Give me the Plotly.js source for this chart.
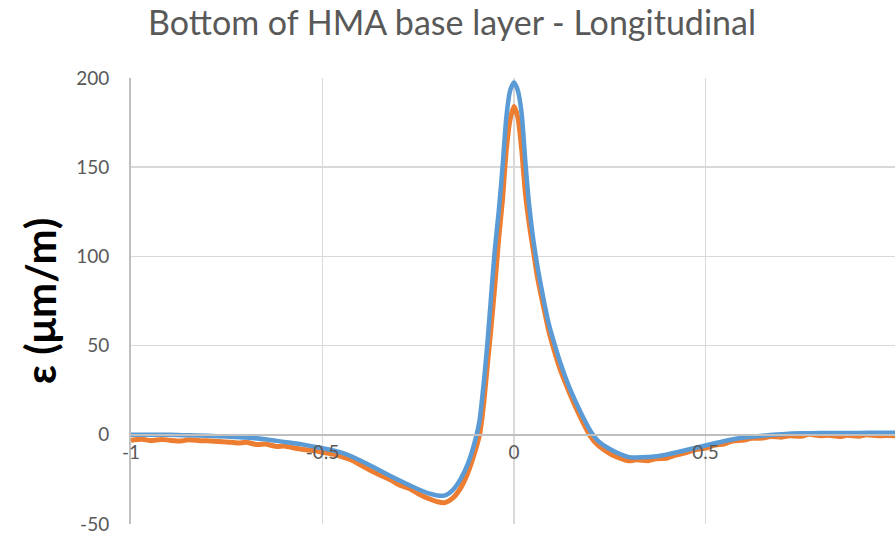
<!DOCTYPE html>
<html>
<head>
<meta charset="utf-8">
<script src="https://cdn.plot.ly/plotly-3.0.1.min.js"></script>
<style>
html,body{margin:0;padding:0;overflow:hidden;background:#fff;}
#chart{width:900px;height:536px;}
</style>
</head>
<body>
<div id="chart"></div>
<script>
// Position along the section (x) and strain (µm/m)
const blueX = [-1, -0.95, -0.9, -0.85, -0.8, -0.75, -0.7, -0.65, -0.6, -0.55, -0.5, -0.45, -0.4, -0.35, -0.3, -0.25, -0.22, -0.2, -0.18, -0.16, -0.14, -0.12, -0.1, -0.09, -0.08, -0.07, -0.06, -0.05, -0.04, -0.03, -0.02, -0.01, 0, 0.01, 0.02, 0.03, 0.04, 0.05, 0.06, 0.07, 0.08, 0.09, 0.1, 0.12, 0.14, 0.16, 0.18, 0.2, 0.22, 0.25, 0.3, 0.35, 0.4, 0.45, 0.5, 0.55, 0.6, 0.65, 0.7, 0.75, 0.8, 0.85, 0.9, 0.95, 1];
const blueY = [0, 0, 0, -0.3, -0.6, -1, -1.5, -2.5, -4, -5.5, -7.5, -10, -14.5, -20, -25.5, -30.5, -33, -34, -34, -31, -25, -16, -2, 8, 27, 50, 77, 104, 125, 150, 178, 193, 197.5, 193, 180, 152, 128, 110, 96, 84, 73, 63, 55, 41, 29, 19, 10, 2, -3.5, -8, -12.5, -12.5, -11, -8.5, -6, -3.5, -1.5, -0.5, 0.3, 0.8, 1, 1, 1, 1.2, 1.2];

const orangeX = [-1, -0.97, -0.95, -0.92, -0.9, -0.87, -0.85, -0.82, -0.8, -0.77, -0.75, -0.72, -0.7, -0.67, -0.65, -0.62, -0.6, -0.57, -0.55, -0.52, -0.5, -0.47, -0.45, -0.42, -0.4, -0.37, -0.35, -0.32, -0.3, -0.27, -0.25, -0.22, -0.2, -0.18, -0.16, -0.14, -0.12, -0.1, -0.09, -0.08, -0.07, -0.06, -0.05, -0.04, -0.03, -0.02, -0.01, 0, 0.01, 0.02, 0.03, 0.04, 0.05, 0.06, 0.07, 0.08, 0.09, 0.1, 0.12, 0.14, 0.16, 0.18, 0.2, 0.22, 0.25, 0.27, 0.3, 0.32, 0.35, 0.37, 0.4, 0.42, 0.45, 0.47, 0.5, 0.52, 0.55, 0.57, 0.6, 0.62, 0.65, 0.67, 0.7, 0.72, 0.75, 0.77, 0.8, 0.82, 0.85, 0.87, 0.9, 0.92, 0.95, 0.97, 1];
const orangeY = [-3, -2.5, -3.2, -2.6, -3, -3.5, -2.8, -3.3, -3.4, -3.8, -4, -4.6, -4.2, -5.5, -5.2, -6.5, -6.3, -7.5, -8.2, -9, -9.8, -11, -12.2, -14.5, -17, -20.5, -22.5, -25.5, -28, -30.5, -33, -36, -37.5, -38, -35.5, -30, -21, -8, 0, 16, 38, 60, 84, 110, 132, 160, 177, 184, 178, 160, 135, 118, 104, 90, 79, 69, 59, 51, 37, 26, 16, 7, -1, -6, -10.5, -12.5, -14.5, -14, -14.5, -13.5, -13, -11.5, -10, -8.5, -7.5, -6, -5, -3.5, -3, -2, -1.8, -1, -1.3, -0.5, -0.8, 0.3, -0.6, -0.2, -1, -0.3, -0.8, 0, -0.6, -0.4, -0.5];

const xTicks = [-1, -0.5, 0, 0.5, 1];
const yTicks = [-50, 0, 50, 100, 150, 200];

const traces = [
  {x: orangeX, y: orangeY, type: 'scatter', mode: 'lines', name: 'Measured',
   line: {color: '#ed7d31', width: 5, shape: 'spline', smoothing: 0.7}},
  {x: blueX, y: blueY, type: 'scatter', mode: 'lines', name: 'Model',
   line: {color: '#5b9bd5', width: 4.5, shape: 'spline', smoothing: 0.7}}
];

const layout = {
  width: 900, height: 536,
  margin: {l: 131, r: 3, t: 78, b: 12},
  paper_bgcolor: '#fff', plot_bgcolor: '#fff',
  showlegend: false,
  font: {family: 'Lato, "Open Sans", sans-serif', color: '#595959'},
  title: {
    text: 'Bottom of HMA base layer - Longitudinal',
    font: {family: 'Lato, "Open Sans", sans-serif', size: 34, color: '#595959'},
    xref: 'container', x: 452 / 900, xanchor: 'center',
    yref: 'container', y: 1 - 23 / 536, yanchor: 'middle'
  },
  xaxis: {
    range: [-1, 1],
    tickvals: xTicks, ticktext: xTicks.map(String),
    anchor: 'free', position: 0.2,
    showline: true, linecolor: '#bfbfbf', linewidth: 2,
    showgrid: true, gridcolor: '#d9d9d9', gridwidth: 1.5,
    zeroline: false, ticks: '',
    tickfont: {size: 19, color: '#595959'}
  },
  yaxis: {
    range: [-50, 200],
    tickvals: yTicks, ticktext: yTicks.map(String),
    showline: true, linecolor: '#bfbfbf', linewidth: 2,
    showgrid: true, gridcolor: '#d9d9d9', gridwidth: 1.5,
    zeroline: false, ticks: '',
    ticklabelstandoff: 16,
    tickfont: {size: 19, color: '#595959'},
    title: {
      text: 'ε (μm/m)', standoff: 6,
      font: {family: 'Lato, "Open Sans", sans-serif', size: 42, color: '#000', weight: 'bold'}
    }
  }
};

Plotly.newPlot('chart', traces, layout, {displayModeBar: false, staticPlot: true});
</script>
</body>
</html>
